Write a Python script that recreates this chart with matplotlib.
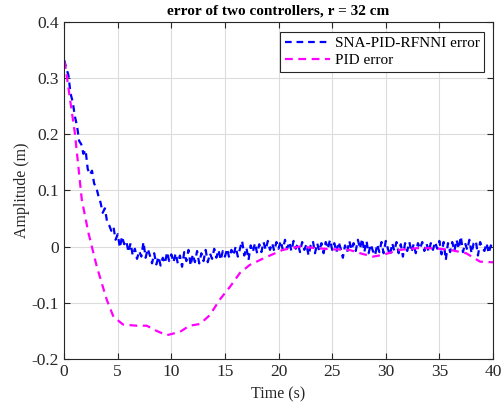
import numpy as np
import matplotlib.pyplot as plt

plt.rcParams['font.family'] = ['Liberation Serif', 'DejaVu Serif']

err_sna = [
    0.332, 0.318, 0.305, 0.272, 0.258, 0.232,
    0.215, 0.188, 0.182, 0.165, 0.172,
    0.138, 0.128, 0.135, 0.112, 0.105,
    0.090, 0.078, 0.060, 0.068, 0.045,
    0.038, 0.028, 0.035, 0.012, 0.022,
    -0.002, 0.018, 0.004, 0.010, -0.010,
    0.006, -0.016, -0.004, -0.022, -0.008,
    -0.018, 0.008, -0.020, -0.004, -0.016,
    -0.030, -0.012, -0.032, -0.018, -0.034,
    -0.020, -0.030, -0.010, -0.026, -0.014,
    -0.028, -0.012, -0.030, -0.016, -0.036,
    -0.010, -0.026, -0.006, -0.034, -0.014,
    -0.028, -0.008, -0.030, -0.012, -0.026,
    -0.006, -0.028, -0.012, -0.022, -0.004,
    -0.020, -0.006, -0.024, -0.008, -0.018,
    -0.004, -0.020, -0.006, -0.016, 0.000,
    -0.018, -0.004, 0.010, -0.016, -0.002,
    -0.024, 0.002, -0.010, 0.006, -0.012,
    0.004, -0.010, 0.008, -0.006, 0.010,
    -0.006, 0.006, -0.008, 0.008, -0.004,
    0.010, -0.006, 0.012, -0.004, 0.008,
    -0.008, 0.010, -0.004, 0.006, -0.010,
    0.008, -0.006, 0.004, -0.016, 0.002,
    0.010, -0.012, 0.006, -0.008, 0.006,
    -0.012, 0.008, -0.004, 0.012, -0.006,
    0.006, -0.010, 0.008, -0.004, -0.020,
    0.002, -0.010, 0.010, -0.006, 0.006,
    -0.008, 0.012, -0.004, 0.014, -0.010,
    0.010, -0.012, 0.004, -0.008, -0.016,
    0.004, -0.010, 0.008, -0.012, 0.010,
    -0.004, -0.016, 0.006, -0.008, 0.008,
    -0.012, 0.004, -0.018, 0.006, -0.008,
    0.008, -0.010, 0.004, -0.012, 0.006,
    -0.004, 0.008, -0.008, 0.006, -0.010,
    0.006, -0.006, 0.008, -0.004, 0.010,
    -0.014, 0.008, -0.024, 0.006, -0.010,
    0.008, -0.008, 0.012, -0.004, 0.018,
    -0.010, 0.006, -0.006, 0.012, -0.012,
    0.006, 0.010, -0.016, 0.008, -0.002,
    -0.008, 0.006, -0.012, 0.002, -0.004,
]
t_sna = np.linspace(0, 40, len(err_sna))

# PID error (smooth curve), time / value pairs
t_pid = [0.0, 0.1, 0.56, 1.0, 1.33, 1.65, 2.27, 3.05, 3.98, 4.6, 5.5, 6.77,
         7.7, 8.6, 9.56, 10.8, 11.7, 12.67, 13.6, 14.5, 15.5, 16.4, 17.3,
         18.6, 20.4, 22.0, 23.5, 25.0, 26.6, 27.6, 28.8, 29.7, 31.3, 32.9,
         34.4, 36.0, 37.5, 38.8, 39.9, 40.0]
err_pid = [0.330, 0.323, 0.261, 0.202, 0.142, 0.083, 0.024, -0.036, -0.095,
           -0.125, -0.139, -0.141, -0.141, -0.150, -0.158, -0.152, -0.141,
           -0.138, -0.122, -0.095, -0.071, -0.047, -0.033, -0.021, -0.006,
           0.000, -0.003, -0.005, -0.006, -0.012, -0.018, -0.015, -0.006,
           -0.003, -0.003, -0.006, -0.012, -0.027, -0.028, -0.028]

fig = plt.figure(figsize=(5.01, 4.05), dpi=100)
ax = fig.add_axes([0.128, 0.114, 0.856, 0.832])

ax.plot(t_sna, err_sna, color='#0000ff', lw=1.6, dashes=(3.0, 2.2),
        label='SNA-PID-RFNNI error')
ax.plot(t_pid, err_pid, color='#ff00ff', lw=1.6, dashes=(3.5, 2.5),
        label='PID error')

ax.set_xlim(0, 40)
ax.set_ylim(-0.2, 0.4)
ax.set_xticks(np.arange(0, 41, 5))
ax.set_yticks([-0.2, -0.1, 0, 0.1, 0.2, 0.3, 0.4])
ax.set_yticklabels(['-0.2', '-0.1', '0', '0.1', '0.2', '0.3', '0.4'])

ax.grid(True, color='#dcdcdc', lw=0.8)
ax.tick_params(direction='in', length=4, width=0.8, top=True, right=True,
               labelsize=12.5, colors='#262626', pad=4)
for s in ax.spines.values():
    s.set_color('#262626')
    s.set_linewidth(0.8)

ax.set_xlabel('Time (s)', fontsize=11.5, color='#262626', labelpad=4)
ax.set_ylabel('Amplitude (m)', fontsize=11.5, color='#262626', labelpad=1)
ax.set_title('error of two controllers, r = 32 cm', fontsize=11,
             fontweight='bold', pad=5)

leg = ax.legend(loc='upper right', bbox_to_anchor=(0.98, 0.97), fontsize=11,
                fancybox=False, edgecolor='#262626', framealpha=1,
                handlelength=3.0, handletextpad=0.3, borderpad=0.3,
                labelspacing=0.2, borderaxespad=0)
leg.get_frame().set_linewidth(0.8)

fig.savefig('out.png', dpi=100)
